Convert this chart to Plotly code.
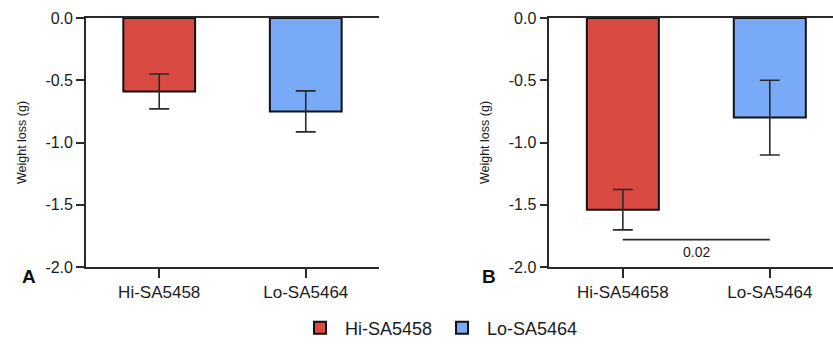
import plotly.graph_objects as go

# Data
categories_a = ["Hi-SA5458", "Lo-SA5464"]
categories_b = ["Hi-SA54658", "Lo-SA5464"]
series_names = ["Hi-SA5458", "Lo-SA5464"]
values_a = [-0.59, -0.75]
errors_a = [0.14, 0.165]
values_b = [-1.54, -0.80]
errors_b = [0.162, 0.30]
sig_y = -1.78
sig_label = "0.02"
y_ticks = [0.0, -0.5, -1.0, -1.5, -2.0]
y_ticklabels = ["0.0", "-0.5", "-1.0", "-1.5", "-2.0"]

colors = ["#D84A42", "#79AAF8"]
FONT = "Liberation Sans, Arial, sans-serif"
TXT = "#1a1a1a"
AX = "#2a2a2a"

fig = go.Figure()

for i in range(2):
    fig.add_trace(go.Bar(
        x=[i], y=[values_a[i]], width=0.49, name=series_names[i],
        marker=dict(color=colors[i], line=dict(color="#111111", width=2)),
        error_y=dict(type="data", array=[errors_a[i]], visible=True,
                     color=AX, thickness=1.6, width=10),
        xaxis="x", yaxis="y", showlegend=True, legendgroup=series_names[i]))
for i in range(2):
    fig.add_trace(go.Bar(
        x=[i], y=[values_b[i]], width=0.49, name=series_names[i],
        marker=dict(color=colors[i], line=dict(color="#111111", width=2)),
        error_y=dict(type="data", array=[errors_b[i]], visible=True,
                     color=AX, thickness=1.6, width=10),
        xaxis="x2", yaxis="y2", showlegend=False, legendgroup=series_names[i]))

# significance bar
fig.add_trace(go.Scatter(x=[0, 1], y=[sig_y, sig_y], mode="lines",
                         line=dict(color=AX, width=1.6), xaxis="x2", yaxis="y2",
                         showlegend=False, hoverinfo="skip"))

xcommon = dict(showline=True, linecolor=AX, linewidth=1.6, mirror=True,
               ticks="outside", ticklen=9, tickwidth=1.6, tickcolor=AX,
               tickmode="array", tickvals=[0, 1], showgrid=False, zeroline=False,
               automargin=False,
               tickfont=dict(family=FONT, size=17, color=TXT))
ycommon = dict(range=[-2, 0], showline=True, linecolor=AX, linewidth=1.6,
               ticks="outside", ticklen=8, tickwidth=1.6, tickcolor=AX,
               tickmode="array", tickvals=y_ticks, ticktext=y_ticklabels,
               showgrid=False, zeroline=False, automargin=False,
               tickfont=dict(family=FONT, size=16, color=TXT),
               title=dict(text="Weight loss (g)", font=dict(family=FONT, size=12.5, color=TXT),
                          standoff=16))

fig.update_layout(
    width=833, height=344,
    margin=dict(l=0, r=0, t=18, b=77, autoexpand=False),
    paper_bgcolor="white", plot_bgcolor="white",
    barmode="overlay",
    xaxis=dict(domain=[0.1032, 0.455], range=[-0.5, 1.5], ticktext=categories_a, anchor="y", **xcommon),
    yaxis=dict(domain=[0, 1], anchor="x", **ycommon),
    xaxis2=dict(domain=[0.6595, 1.0], range=[-0.5, 1.43], ticktext=categories_b, anchor="y2", **xcommon),
    yaxis2=dict(domain=[0, 1], anchor="x2", **ycommon),
    legend=dict(orientation="h", x=0.527, y=-0.245, xanchor="center", yanchor="middle",
                font=dict(family=FONT, size=18, color=TXT), itemwidth=40),
    showlegend=True,
)

fig.add_annotation(x=0.5, y=-1.877, xref="x2", yref="y2", text=sig_label, showarrow=False,
                   font=dict(family=FONT, size=14, color=TXT))
fig.add_annotation(x=20 / 833, y=(267 - 289) / 249, xref="paper", yref="paper", text="<b>A</b>",
                   showarrow=False, font=dict(family=FONT, size=19, color="#111111"))
fig.add_annotation(x=489 / 833, y=(267 - 289) / 249, xref="paper", yref="paper", text="<b>B</b>",
                   showarrow=False, font=dict(family=FONT, size=19, color="#111111"))

fig.write_html("out.html", config={"displayModeBar": False},
               post_script="document.body.style.margin='0';document.body.style.overflow='hidden';")
